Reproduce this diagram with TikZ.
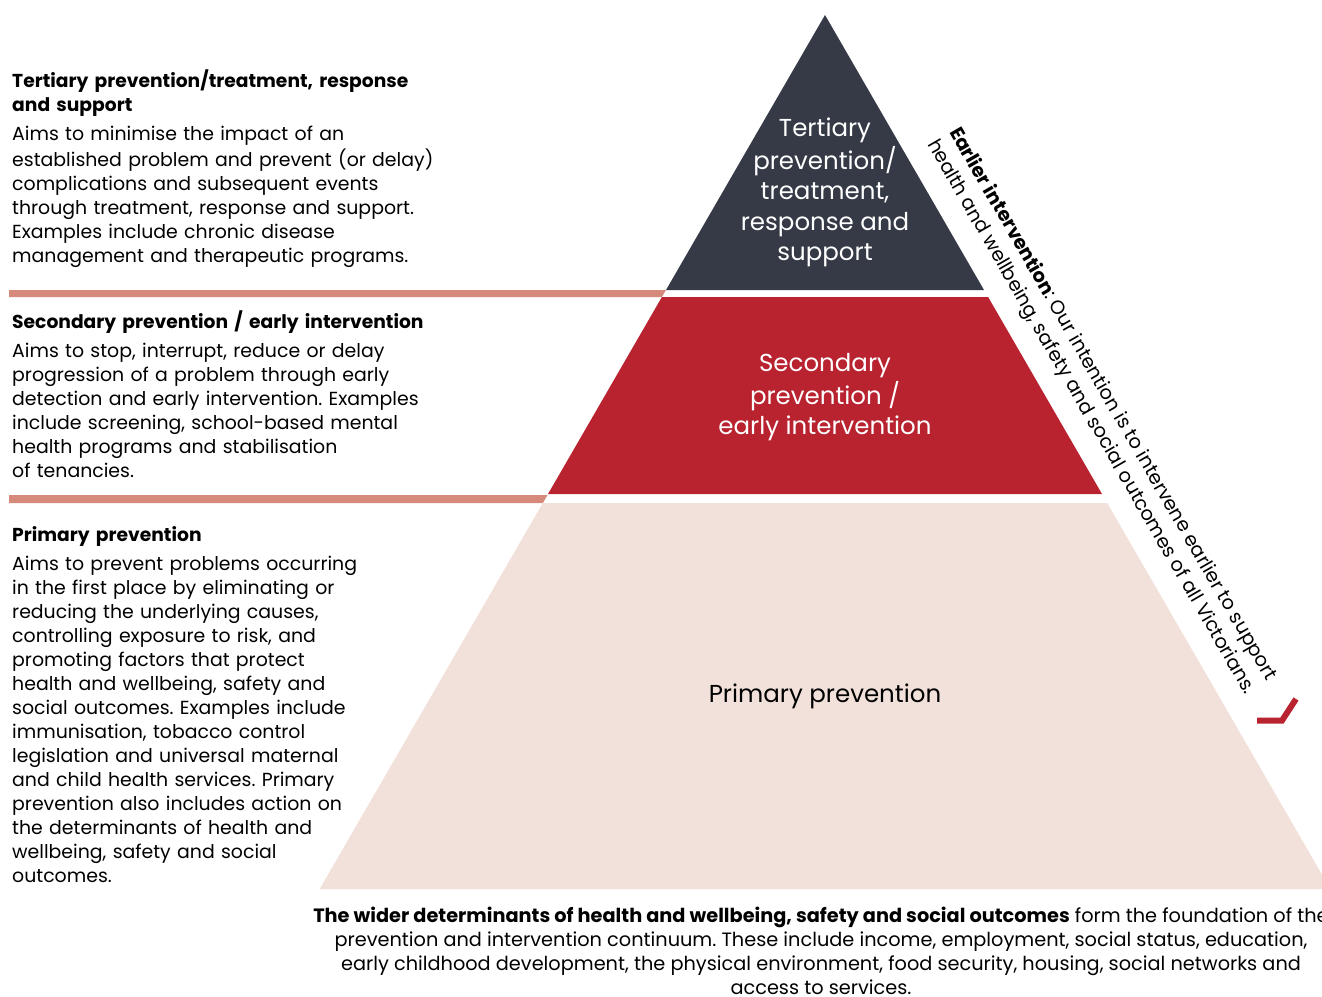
\documentclass[tikz,border=0pt]{standalone}
\usepackage{fontspec}
\setmainfont{Poppins}
\frenchspacing
\definecolor{pdark}{HTML}{353A46}
\definecolor{pred}{HTML}{B8232F}
\definecolor{ppink}{HTML}{F2E1DB}
\definecolor{pbar}{HTML}{D68A7C}
\begin{document}
\begin{tikzpicture}[x=1pt,y=-1pt,
  body/.style={anchor=north west, inner sep=0pt, text width=480pt, align=left, font=\fontsize{18.9}{24}\selectfont},
  head/.style={body, font=\fontsize{18.7}{24}\selectfont\bfseries},
  tier/.style={anchor=north, inner sep=0pt, align=center, font=\fontsize{24.5}{30.5}\selectfont},
  side/.style={anchor=base west, inner sep=0pt, rotate=-60, font=\fontsize{19.3}{24}\selectfont},
  foot/.style={anchor=north, inner sep=0pt, align=center, font=\fontsize{19.3}{24}\selectfont}]
\useasboundingbox (0,0) rectangle (1322,996);
% pyramid
\fill[pdark] (825,15) -- (984,290) -- (666,290) -- cycle;
\fill[pred] (661.9,297) -- (988.1,297) -- (1102,494) -- (548,494) -- cycle;
\fill[ppink] (542.8,503) -- (1107.2,503) -- (1330.3,889) -- (319.7,889) -- cycle;
% bars
\fill[pbar] (9,290) -- (666,290) -- (661.9,297) -- (9,297) -- cycle;
\fill[pbar] (9,495) -- (547.5,495) -- (542.9,503) -- (9,503) -- cycle;
% left texts
\node[head] (h1) at (12,69.2) {\strut Tertiary prevention/treatment, response\\and support};
\node[body] (b1) at (12,123.2) {\strut Aims to minimise the impact of an\\established problem and prevent (or delay)\\complications and subsequent events\\through treatment, response and support.\\Examples include chronic disease\\management and therapeutic programs.};
\node[head] (h2) at (12,310.2) {\strut Secondary prevention / early intervention};
\node[body] (b2) at (12,340.2) {\strut Aims to stop, interrupt, reduce or delay\\progression of a problem through early\\detection and early intervention. Examples\\include screening, school-based mental\\health programs and stabilisation\\of tenancies.};
\node[head] (h3) at (12,524.2) {\strut Primary prevention};
\node[body] (b3) at (12,553.2) {\strut Aims to prevent problems occurring\\in the first place by eliminating or\\reducing the underlying causes,\\controlling exposure to risk, and\\promoting factors that protect\\health and wellbeing, safety and\\social outcomes. Examples include\\immunisation, tobacco control\\legislation and universal maternal\\and child health services. Primary\\prevention also includes action on\\the determinants of health and\\wellbeing, safety and social\\outcomes.};
% tier labels
\node[tier, text=white] (t1) at (825,114.6) {\strut Tertiary\\prevention/\\treatment,\\response and\\support};
\node[tier, text=white] (t2) at (825,349.6) {\strut Secondary\\prevention /\\early intervention};
\node[tier, anchor=base] (t3) at (825,702) {Primary prevention};
% side text
\node[side] (s1) at (949,132) {\textbf{Earlier intervention}: Our intention is to intervene earlier to support};
\node[side] (s2) at (927,144) {health and wellbeing, safety and social outcomes of all Victorians.};
\draw[pred, line width=6pt, miter limit=10] (1257,720.5) -- (1282,720.5) -- (1296,699);
% footer
\node[foot] (f) at (821,905.2) {\strut\textbf{The wider determinants of health and wellbeing, safety and social outcomes} form the foundation of the\\prevention and intervention continuum. These include income, employment, social status, education,\\early childhood development, the physical environment, food security, housing, social networks and\\access to services.};
\end{tikzpicture}
\end{document}
